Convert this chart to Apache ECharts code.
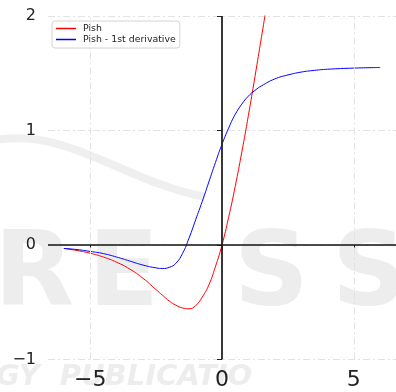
<!DOCTYPE html>
<html>
<head>
<meta charset="utf-8">
<script src="https://cdn.jsdelivr.net/npm/echarts@6/dist/echarts.min.js"></script>
<style>
  html, body { margin: 0; padding: 0; background: #fff; }
  #main { width: 396px; height: 392px; }
</style>
</head>
<body>
<div id="main"></div>
<script>
// values
var pishX = [-6, -5.5, -5, -4.5, -4, -3.5, -3, -2.5, -2.25, -2, -1.75, -1.5, -1.25, -1, -0.75, -0.5, -0.25, 0, 0.25, 0.5, 0.75, 1, 1.25, 1.5, 1.75, 2];
var pishY = [-0.03, -0.048, -0.072, -0.105, -0.15, -0.21, -0.29, -0.39, -0.44, -0.49, -0.525, -0.55, -0.557, -0.53, -0.455, -0.35, -0.19, 0, 0.24, 0.51, 0.81, 1.13, 1.47, 1.82, 2.17, 2.53];

var derivX = [-6, -5.5, -5, -4.5, -4, -3.5, -3, -2.5, -2.25, -2, -1.75, -1.5, -1.25, -1, -0.75, -0.5, -0.25, 0, 0.25, 0.5, 0.75, 1, 1.25, 1.5, 2, 2.5, 3, 3.5, 4, 5, 6];
var derivY = [-0.03, -0.04, -0.056, -0.075, -0.105, -0.14, -0.175, -0.2, -0.205, -0.195, -0.16, -0.075, 0.06, 0.22, 0.38, 0.55, 0.72, 0.88, 1.02, 1.14, 1.23, 1.30, 1.35, 1.39, 1.45, 1.485, 1.51, 1.525, 1.535, 1.545, 1.55];

var xTicks = [-5, 0, 5];
var yTicks = [-1, 0, 1, 2];
var seriesNames = ['Pish', 'Pish - 1st derivative'];

function pairs(xs, ys) {
    return xs.map(function (x, i) { return [x, ys[i]]; });
}
function minus(v) {
    return String(v).replace('-', '\u2212');
}

var chart = echarts.init(document.getElementById('main'));

var dashDot = [7, 3, 2, 3];
var gridMarks = xTicks.filter(function (v) { return v !== 0; }).map(function (v) {
    return { xAxis: v, lineStyle: { color: '#e2e2e2', width: 1, type: dashDot } };
});
var zeroMarks = [
    { yAxis: 0, lineStyle: { color: '#111', width: 1.5, type: 'solid' } },
    { xAxis: 0, lineStyle: { color: '#222', width: 1.8, type: 'solid' } }
];

var wm = '#ededed';

var option = {
    animation: false,
    backgroundColor: '#fff',
    grid: { left: 48, top: 16, width: 352.4, height: 343.5 },
    xAxis: {
        type: 'value',
        min: -6.6,
        max: 6.6,
        axisLine: { show: false },
        splitLine: { show: false },
        axisTick: { show: true, customValues: xTicks, length: 5, lineStyle: { color: '#222', width: 1 } },
        axisLabel: {
            customValues: xTicks,
            fontSize: 22,
            fontFamily: 'DejaVu Sans',
            color: '#222',
            margin: 10,
            formatter: minus
        }
    },
    yAxis: {
        type: 'value',
        min: yTicks[0],
        max: yTicks[yTicks.length - 1],
        interval: 1,
        axisLine: { show: false },
        axisTick: { show: true, length: 5, lineStyle: { color: '#222', width: 1 } },
        axisLabel: {
            fontSize: 16,
            fontFamily: 'DejaVu Sans',
            color: '#222',
            margin: 12,
            formatter: minus
        },
        splitLine: { show: true, lineStyle: { color: '#e2e2e2', width: 1, type: dashDot } }
    },
    legend: {
        orient: 'vertical',
        left: 52,
        top: 21,
        padding: [3, 4, 4, 4],
        itemGap: 2,
        itemWidth: 20,
        itemHeight: 1.5,
        backgroundColor: '#fff',
        borderColor: '#d4d4d4',
        borderWidth: 1,
        borderRadius: 3,
        textStyle: { fontSize: 9.4, fontFamily: 'DejaVu Sans', color: '#222', padding: [0, 0, 0, 2] },
        data: [
            { name: seriesNames[0], icon: 'rect' },
            { name: seriesNames[1], icon: 'rect' }
        ]
    },
    graphic: [
        // faint publisher watermark behind the plot
        { type: 'text', z: -1, left: -6, top: 226, style: { text: 'R', font: 'bold 104px "DejaVu Sans"', fill: wm } },
        { type: 'text', z: -1, left: 88, top: 226, style: { text: 'E', font: 'bold 104px "DejaVu Sans"', fill: wm } },
        { type: 'text', z: -1, left: 234, top: 226, style: { text: 'S', font: 'bold 104px "DejaVu Sans"', fill: wm } },
        { type: 'text', z: -1, left: 332, top: 226, style: { text: 'S', font: 'bold 104px "DejaVu Sans"', fill: wm } },
        { type: 'text', z: -1, left: -4, top: 363, style: { text: 'GY  PUBLICATIO', font: 'italic bold 29px "DejaVu Sans"', fill: wm } },
        {
            type: 'bezierCurve', z: -1,
            shape: { x1: -5, y1: 140, cpx1: 70, cpy1: 128, cpx2: 120, cpy2: 180, x2: 205, y2: 197 },
            style: { stroke: '#efefef', lineWidth: 8, fill: null }
        }
    ],
    series: [
        {
            name: 'grid',
            type: 'line',
            data: [],
            z: 1,
            markLine: {
                silent: true,
                symbol: 'none',
                label: { show: false },
                animation: false,
                data: gridMarks.concat(zeroMarks)
            }
        },
        {
            name: seriesNames[0],
            type: 'line',
            data: pairs(pishX, pishY),
            smooth: 0.5,
            showSymbol: false,
            symbol: 'none',
            clip: true,
            color: '#ff0000',
            itemStyle: { color: '#ff0000' },
            lineStyle: { color: '#ff0000', width: 1 }
        },
        {
            name: seriesNames[1],
            type: 'line',
            data: pairs(derivX, derivY),
            smooth: 0.5,
            showSymbol: false,
            symbol: 'none',
            clip: true,
            color: '#0000ff',
            itemStyle: { color: '#0000ff' },
            lineStyle: { color: '#0000ff', width: 1 }
        }
    ]
};

chart.setOption(option);
</script>
</body>
</html>
